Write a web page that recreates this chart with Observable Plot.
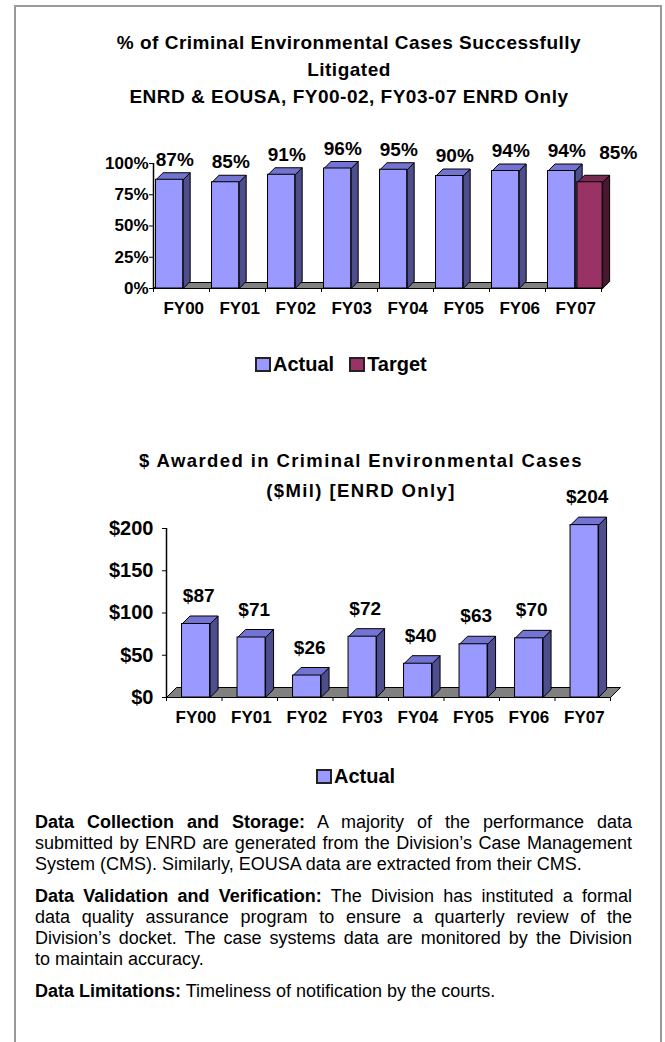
<!DOCTYPE html>
<html><head><meta charset="utf-8">
<script src="https://cdn.jsdelivr.net/npm/d3@7"></script>
<script src="https://cdn.jsdelivr.net/npm/@observablehq/plot@0.6"></script>
<style>
body{margin:0;background:#fff;width:665px;height:1042px;overflow:hidden;position:relative;font-family:"Liberation Sans",Arial,sans-serif;color:#000}
.frame{position:absolute;left:14px;top:5px;width:644px;height:1100px;border:2px solid #999;border-bottom:none}
.title{position:absolute;text-align:center;font-weight:bold;white-space:nowrap}
#t1{left:49px;width:600px;top:29px;font-size:19px;line-height:27px;letter-spacing:0.5px}
#t2{left:61px;width:600px;top:446px;font-size:18.5px;line-height:30px;letter-spacing:1.4px}
.chart{position:absolute;left:0}
#c1{top:120px}
#c2{top:500px}
.leg{position:absolute;font-weight:bold;font-size:20px;line-height:20px;display:flex;align-items:center}
.sw{width:12px;height:11px;border:2px solid #222;display:inline-block;margin-right:2px}
#text{position:absolute;left:35px;width:597px;top:812px;font-size:18px;line-height:21px}
#text .ln{text-align:justify;text-align-last:justify;white-space:nowrap}
#text .ln.last{text-align-last:left}
#text .p{margin-bottom:11px}
</style>
</head><body>
<div class="frame"></div>
<div class="title" id="t1"></div>
<div class="chart" id="c1"></div>
<div class="leg" id="leg1" style="left:255px;top:354px"></div>
<div class="title" id="t2"></div>
<div class="chart" id="c2"></div>
<div class="leg" id="leg2" style="left:316px;top:766px"></div>
<div id="text"></div>
<script>
// ---------- data ----------
const title1 = ["% of Criminal Environmental Cases Successfully", "Litigated", "ENRD & EOUSA, FY00-02, FY03-07 ENRD Only"];
const title2 = ["$ Awarded in Criminal Environmental Cases", "($Mil) [ENRD Only]"];
const categories = ["FY00", "FY01", "FY02", "FY03", "FY04", "FY05", "FY06", "FY07"];
const pctActual = [0.87, 0.85, 0.91, 0.96, 0.95, 0.90, 0.94, 0.94];
const pctTarget = [null, null, null, null, null, null, null, 0.85];
const pctTicks = [0, 0.25, 0.5, 0.75, 1];
const pctTickLabels = ["0%", "25%", "50%", "75%", "100%"];
const awardActual = [87, 71, 26, 72, 40, 63, 70, 204];
const awardTicks = [0, 50, 100, 150, 200];
const awardTickLabels = ["$0", "$50", "$100", "$150", "$200"];
const legend1 = ["Actual", "Target"];
const legend2 = ["Actual"];
const paragraphs = [
  [["Data Collection and Storage:", " A majority of the performance data"],
   "submitted by ENRD are generated from the Division\u2019s Case Management",
   "System (CMS). Similarly, EOUSA data are extracted from their CMS."],
  [["Data Validation and Verification:", " The Division has instituted a formal"],
   "data quality assurance program to ensure a quarterly review of the",
   "Division\u2019s docket. The case systems data are monitored by the Division",
   "to maintain accuracy."],
  [["Data Limitations:", " Timeliness of notification by the courts."]]
];

// ---------- styles ----------
const FONT = "'Liberation Sans', Arial, sans-serif";
const blue = {front: "#9999FF", top: "#7373D2", side: "#4E4E8E"};
const plum = {front: "#993366", top: "#7A2952", side: "#4A1730"};
const floorColor = "#808080";

// titles
document.getElementById("t1").innerHTML = title1.map(s => `<div>${s}</div>`).join("");
document.getElementById("t2").innerHTML = title2.map(s => `<div>${s}</div>`).join("");

// legends
function legend(el, names, colors) {
  el.innerHTML = names.map((n, i) =>
    `<span class="sw" style="background:${colors[i]}"></span><span style="margin-right:${i < names.length - 1 ? 15 : 0}px">${n}</span>`).join("");
}
legend(document.getElementById("leg1"), legend1, [blue.front, plum.front]);
legend(document.getElementById("leg2"), legend2, [blue.front]);

// text
document.getElementById("text").innerHTML = paragraphs.map(p =>
  `<div class="p">` + p.map((ln, k) => {
    const cls = "ln" + (k === p.length - 1 ? " last" : "");
    const html = Array.isArray(ln) ? `<b>${ln[0]}</b>${ln[1]}` : ln;
    return `<div class="${cls}">${html}</div>`;
  }).join("") + `</div>`).join("");

// ---------- 3D bar helpers ----------
function barPolys(values, off0, off1, dxU, dyU, prefix) {
  const side = [], top = [], front = [];
  values.forEach((v, i) => {
    if (v == null) return;
    const x0 = i + off0, x1 = i + off1;
    const id = prefix + i;
    [[x1, 0], [x1 + dxU, dyU], [x1 + dxU, v + dyU], [x1, v], [x1, 0]]
      .forEach(([x, y]) => side.push({id, x, y}));
    [[x0, v], [x1, v], [x1 + dxU, v + dyU], [x0 + dxU, v + dyU], [x0, v]]
      .forEach(([x, y]) => top.push({id, x, y}));
    front.push({x1: x0, x2: x1, y1: 0, y2: v});
  });
  return {side, top, front};
}
function barMarks(p, col) {
  return [
    Plot.line(p.side, {x: "x", y: "y", z: "id", fill: col.side, stroke: "#000", strokeWidth: 1, strokeLinejoin: "miter"}),
    Plot.line(p.top, {x: "x", y: "y", z: "id", fill: col.top, stroke: "#000", strokeWidth: 1, strokeLinejoin: "miter"}),
    Plot.rect(p.front, {x1: "x1", x2: "x2", y1: "y1", y2: "y2", fill: col.front, stroke: "#000", strokeWidth: 1})
  ];
}
function floorPoly(n, dxU, dyU) {
  return [[0, 0], [n, 0], [n + dxU, dyU], [dxU, dyU], [0, 0]].map(([x, y]) => ({id: "floor", x, y}));
}

// ---------- chart 1 ----------
{
  const W = 665, H = 205, ml = 153, mr = 64, mt = 43, mb = 37;
  const n = categories.length;
  const pxX = (W - ml - mr) / n, pxY = (H - mt - mb) / 1;
  const d = 7, dxU = d / pxX, dyU = d / pxY;
  const fl = 6;
  const act = barPolys(pctActual, 0.045, 0.53, dxU, dyU, "a");
  const tgt = barPolys(pctTarget, 0.57, 1.02, dxU, dyU, "t");
  const tgtIdx = pctTarget.map((v, i) => i).filter(i => pctTarget[i] != null);
  const chart = Plot.plot({
    width: W, height: H, marginLeft: ml, marginRight: mr, marginTop: mt, marginBottom: mb,
    x: {domain: [0, n]}, y: {domain: [0, 1]},
    style: {fontFamily: FONT, fontWeight: "bold", fontSize: "17px", background: "transparent", overflow: "visible", color: "#000"},
    marks: [
      Plot.axisX({ticks: d3.range(n + 1), tickSize: 4, tickFormat: () => "", label: null, stroke: "#000"}),
      Plot.line(floorPoly(n, fl / pxX, fl / pxY), {x: "x", y: "y", z: "id", fill: floorColor, stroke: "#000", strokeWidth: 1}),
      Plot.ruleX([0], {y1: 0, y2: 1, stroke: "#000", strokeWidth: 1.5}),
      Plot.axisY({ticks: pctTicks, tickSize: 4, tickPadding: 1, tickFormat: t => pctTickLabels[pctTicks.indexOf(t)], label: null, stroke: "#000", fontSize: 17, fontWeight: "bold"}),
      ...barMarks(act, blue),
      ...barMarks(tgt, plum),
      Plot.text(categories, {x: (c, i) => i + 0.54, y: () => 0, text: c => c, dy: 20, fontSize: 17, fontWeight: "bold"}),
      Plot.text(pctActual, {x: (v, i) => i + 0.38, y: v => v, text: v => Math.round(v * 100) + "%", dy: -20, fontSize: 19, fontWeight: "bold"}),
      Plot.text(tgtIdx, {x: i => i + 1.3, y: i => pctTarget[i], text: i => Math.round(pctTarget[i] * 100) + "%", dy: -29, fontSize: 19, fontWeight: "bold"})
    ]
  });
  document.getElementById("c1").appendChild(chart);
}

// ---------- chart 2 ----------
{
  const W = 665, H = 235, ml = 166, mr = 55, mt = 28, mb = 38;
  const n = categories.length;
  const ymax = 200;
  const pxX = (W - ml - mr) / n, pxY = (H - mt - mb) / ymax;
  const d = 8, dxU = d / pxX, dyU = d / pxY;
  const fl = 10;
  const act = barPolys(awardActual, 0.28, 0.785, dxU, dyU, "a");
  const chart = Plot.plot({
    width: W, height: H, marginLeft: ml, marginRight: mr, marginTop: mt, marginBottom: mb,
    x: {domain: [0, n]}, y: {domain: [0, ymax]},
    style: {fontFamily: FONT, fontWeight: "bold", fontSize: "17px", background: "transparent", overflow: "visible", color: "#000"},
    marks: [
      Plot.axisX({ticks: d3.range(n + 1), tickSize: 4, tickFormat: () => "", label: null, stroke: "#000"}),
      Plot.line(floorPoly(n, fl / pxX, fl / pxY), {x: "x", y: "y", z: "id", fill: floorColor, stroke: "#000", strokeWidth: 1}),
      Plot.ruleX([0], {y1: 0, y2: ymax, stroke: "#000", strokeWidth: 1.5}),
      Plot.axisY({ticks: awardTicks, tickSize: 4, tickPadding: 9, tickFormat: t => awardTickLabels[awardTicks.indexOf(t)], label: null, stroke: "#000", fontSize: 20, fontWeight: "bold"}),
      ...barMarks(act, blue),
      Plot.text(categories, {x: (c, i) => i + 0.53, y: () => 0, text: c => c, dy: 20, fontSize: 17, fontWeight: "bold"}),
      Plot.text(awardActual, {x: (v, i) => i + 0.58, y: v => v, text: v => "$" + v, dy: -28, fontSize: 19, fontWeight: "bold"})
    ]
  });
  document.getElementById("c2").appendChild(chart);
}
</script>
</body></html>
